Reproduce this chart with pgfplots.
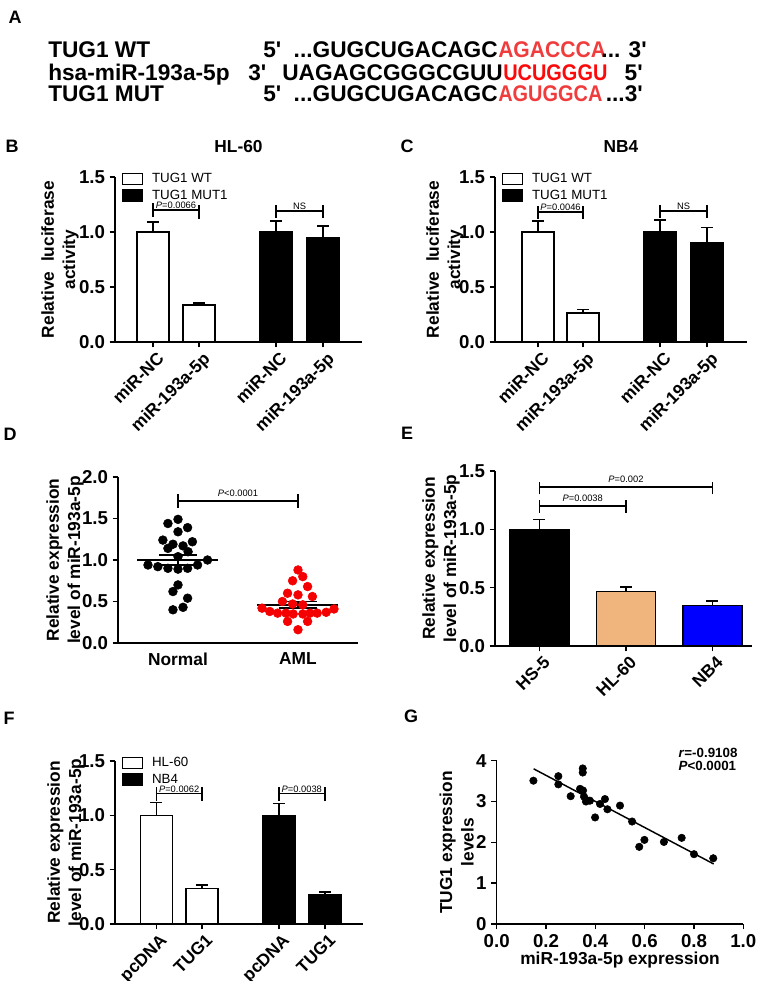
\documentclass[border=0pt]{standalone}
\usepackage{pgfplots}
\pgfplotsset{compat=1.18}
\usepackage{fontspec}
\setmainfont{Liberation Sans}
\definecolor{seqred}{RGB}{240,60,60}
\definecolor{mirred}{RGB}{250,10,10}
\definecolor{tanbar}{RGB}{240,180,125}
\definecolor{dotred}{RGB}{245,0,0}
\newcommand{\fs}[1]{\fontsize{#1}{#1}\selectfont}
\newcommand{\q}{\textquotesingle}
\tikzset{brk/.style={line width=1.3pt}}
\pgfplotsset{
  gp/.style={
    scale only axis, anchor=south west,
    axis x line*=bottom, axis y line*=left,
    axis line style={line width=1.1pt},
    every tick/.style={black, line width=1.1pt},
    tick align=outside, major tick length=4pt,
    /pgf/number format/assume math mode=true,
    yticklabel style={font=\bfseries\fs{14}, /pgf/number format/fixed, /pgf/number format/fixed zerofill, /pgf/number format/precision=1},
    xticklabel style={font=\bfseries\fs{13}},
    label style={font=\bfseries\fontsize{13}{16}\selectfont, align=center},
    clip=false,
  },
  barx/.style={xticklabel style={xshift=2.25pt, yshift=-2.5pt, rotate=45, anchor=north east, inner sep=0pt}},
  legbox/.style={
    legend image code/.code={\draw[##1, line width=1.1pt] (0pt,-4pt) rectangle (15pt,4.25pt); \path (20pt,0pt);},
    legend style={at={(axis description cs:0,1)}, anchor=north west, xshift=5pt, yshift=4.5pt,
      draw=none, fill=none, font=\fs{10}, inner sep=0pt, row sep=1pt, nodes={inner sep=1.5pt, font=\fs{10}}},
    legend cell align=left},
  errb/.style={error bars/.cd, y dir=plus, y explicit,
    error bar style={line width=1.1pt, black},
    error mark options={rotate=90, mark size=4.5pt, line width=1.1pt, black}},
}
\begin{document}
\begin{tikzpicture}
\path[use as bounding box] (0,0) rectangle (567.75pt,-735.75pt);
% ---------- Panel A ----------
\begin{scope}[every node/.style={font=\bfseries\fs{17}, inner sep=0pt, anchor=base west}]
\node at (36pt,-43.5pt) {TUG1 WT};
\node at (197.25pt,-43.5pt) {5\q};
\node[anchor=base east] at (373.5pt,-43.5pt) {...GUGCUGACAGC};
\node at (373.5pt,-43.5pt) {\textcolor{seqred}{\scalebox{0.93}[1]{AGACCCA}}};
\node[anchor=base east] at (485.25pt,-43.5pt) {... 3\q};
\node at (36pt,-60pt) {hsa-miR-193a-5p};
\node at (186pt,-60pt) {3\q};
\node[anchor=base east] at (377.25pt,-60pt) {UAGAGCGGGCGUU};
\node at (377.25pt,-60pt) {\textcolor{mirred}{\scalebox{0.88}[1]{UCUGGGU}}};
\node[anchor=base east] at (482.25pt,-60pt) {5\q};
\node at (36pt,-76.5pt) {TUG1 MUT};
\node at (197.25pt,-76.5pt) {5\q};
\node[anchor=base east] at (373.5pt,-76.5pt) {...GUGCUGACAGC};
\node at (373.5pt,-76.5pt) {\textcolor{seqred}{\scalebox{0.88}[1]{AGUGGCA}}};
\node[anchor=base east] at (482.25pt,-76.5pt) {...3\q};
\end{scope}
% panel letters
\begin{scope}[every node/.style={font=\bfseries\fs{13.5}, anchor=center, inner sep=0pt}]
\node at (11.25pt,-12.75pt) {A};
\node at (9pt,-109.5pt) {B};
\node at (305.25pt,-109.5pt) {C};
\node at (7.5pt,-325.5pt) {D};
\node at (305.25pt,-324.75pt) {E};
\node at (6.75pt,-538.5pt) {F};
\node at (308.25pt,-537pt) {G};
\end{scope}
% ---------- Panel B ----------
\begin{axis}[gp, barx, legbox,
  at={(86.25pt,-256.5pt)}, width=185.25pt, height=123.75pt,
  xmin=-0.826, xmax=4.543, ymin=0, ymax=1.5, ytick={0,0.5,1,1.5},
  xtick={0,1,2.67,3.70}, xticklabels={miR-NC,miR-193a-5p,miR-NC,miR-193a-5p},
  ylabel={Relative\ \ luciferase\\activity},
  ylabel style={at={([xshift=-41.25pt]axis description cs:0,0.5)}, anchor=center},
  title={HL-60}, title style={font=\bfseries\fs{13}, at={([yshift=16.5pt]axis description cs:0.5,1)}, anchor=center}]
\addplot[ybar, bar width=24pt, bar shift=0pt, draw=black, fill=white, line width=1.1pt, errb]
  coordinates {(0,1.0) +- (0,0.09) (1,0.335) +- (0,0.02)};
\addplot[ybar, bar width=24pt, bar shift=0pt, draw=black, fill=black, line width=1.1pt, errb]
  coordinates {(2.67,1.0) +- (0,0.10) (3.70,0.945) +- (0,0.11)};
\legend{TUG1 WT, TUG1 MUT1}
\draw[brk] (axis cs:0,1.14)--(axis cs:0,1.26) (axis cs:0,1.20)--(axis cs:1,1.20) (axis cs:1,1.12)--(axis cs:1,1.25);
\node[font=\fs{7}, anchor=south, inner sep=1pt] at (axis cs:0.5,1.20) {\textit{P}=0.0066};
\draw[brk] (axis cs:2.67,1.13)--(axis cs:2.67,1.25) (axis cs:2.67,1.19)--(axis cs:3.70,1.19) (axis cs:3.70,1.13)--(axis cs:3.70,1.25);
\node[font=\fs{7}, anchor=south, inner sep=1pt] at (axis cs:3.185,1.19) {NS};
\end{axis}
% ---------- Panel C ----------
\begin{axis}[gp, barx, legbox,
  at={(371.25pt,-256.5pt)}, width=189pt, height=123.75pt,
  xmin=-0.945, xmax=4.59, ymin=0, ymax=1.5, ytick={0,0.5,1,1.5},
  xtick={0,0.99,2.68,3.71}, xticklabels={miR-NC,miR-193a-5p,miR-NC,miR-193a-5p},
  ylabel={Relative\ \ luciferase\\activity},
  ylabel style={at={([xshift=-37.5pt]axis description cs:0,0.5)}, anchor=center},
  title={NB4}, title style={font=\bfseries\fs{13}, at={([yshift=16.5pt]axis description cs:0.5,1)}, anchor=center}]
\addplot[ybar, bar width=24pt, bar shift=0pt, draw=black, fill=white, line width=1.1pt, errb]
  coordinates {(0,1.0) +- (0,0.10) (0.99,0.265) +- (0,0.03)};
\addplot[ybar, bar width=24pt, bar shift=0pt, draw=black, fill=black, line width=1.1pt, errb]
  coordinates {(2.68,1.0) +- (0,0.11) (3.71,0.905) +- (0,0.135)};
\legend{TUG1 WT, TUG1 MUT1}
\draw[brk] (axis cs:0,1.12)--(axis cs:0,1.24) (axis cs:0,1.18)--(axis cs:0.99,1.18) (axis cs:0.99,1.12)--(axis cs:0.99,1.24);
\node[font=\fs{7}, anchor=south, inner sep=1pt] at (axis cs:0.495,1.18) {\textit{P}=0.0046};
\draw[brk] (axis cs:2.68,1.13)--(axis cs:2.68,1.25) (axis cs:2.68,1.19)--(axis cs:3.71,1.19) (axis cs:3.71,1.13)--(axis cs:3.71,1.25);
\node[font=\fs{7}, anchor=south, inner sep=1pt] at (axis cs:3.195,1.19) {NS};
\end{axis}
% ---------- Panel D ----------
\begin{axis}[gp,
  at={(88.5pt,-482.25pt)}, width=180pt, height=124.5pt,
  xmin=-0.5, xmax=1.5, ymin=0, ymax=2, ytick={0,0.5,1,1.5,2},
  xtick={0,1}, xticklabels={Normal,AML}, xtick style={draw=none},
  ylabel={Relative expression\\level of miR-193a-5p},
  ylabel style={at={([xshift=-39.75pt]axis description cs:0,0.5)}, anchor=center}]
\addplot[only marks, mark=*, mark size=3.3pt, black] coordinates {
(0,1.49) (-0.084,1.44) (0.08,1.39) (0,1.34) (-0.126,1.24) (-0.042,1.19) (0.042,1.17) (0.12,1.22)
(-0.084,1.14) (0.084,1.10) (0,1.04) (-0.25,0.94) (-0.168,0.92) (-0.084,0.90) (0,0.89) (0.08,0.90)
(0.163,0.94) (0.246,1.00) (0,0.70) (-0.042,0.62) (0.08,0.54) (-0.042,0.40) (0.042,0.43)};
\addplot[only marks, mark=*, mark size=3.3pt, dotred] coordinates {
(1,0.88) (1.04,0.80) (0.955,0.75) (1.08,0.68) (0.913,0.60) (1,0.58) (1.12,0.56) (0.87,0.50)
(0.955,0.47) (1.04,0.46) (0.70,0.42) (0.765,0.38) (0.83,0.36) (0.90,0.36) (0.96,0.35)
(1.04,0.35) (1.10,0.36) (1.16,0.36) (1.235,0.37) (1.30,0.41) (0.913,0.26) (1.08,0.26) (1,0.16)};
\addplot[black, line width=1.1pt] coordinates {(-0.34,1.0) (0.33,1.0)};
\addplot[black, line width=1.1pt] coordinates {(-0.16,1.06) (0.16,1.06)};
\addplot[black, line width=1.1pt] coordinates {(-0.16,0.94) (0.16,0.94)};
\addplot[black, line width=1.1pt] coordinates {(0,0.94) (0,1.06)};
\addplot[black, line width=1.1pt] coordinates {(0.66,0.46) (1.33,0.46)};
\addplot[black, line width=1.1pt] coordinates {(0.84,0.50) (1.16,0.50)};
\addplot[black, line width=1.1pt] coordinates {(0.84,0.42) (1.16,0.42)};
\addplot[black, line width=1.1pt] coordinates {(1,0.42) (1,0.50)};
\draw[brk] (axis cs:0,1.63)--(axis cs:0,1.79) (axis cs:0,1.71)--(axis cs:1,1.71) (axis cs:1,1.63)--(axis cs:1,1.79);
\node[font=\fs{7}, anchor=south, inner sep=3pt] at (axis cs:0.5,1.71) {\textit{P}<0.0001};
\end{axis}
% ---------- Panel E ----------
\begin{axis}[gp, barx,
  at={(371.25pt,-484.5pt)}, width=192.75pt, height=131.25pt,
  xmin=-0.514, xmax=2.457, ymin=0, ymax=1.5, ytick={0,0.5,1,1.5},
  xtick={0,1,2}, xticklabels={HS-5,HL-60,NB4},
  ylabel={Relative expression\\level of miR-193a-5p},
  ylabel style={at={([xshift=-40.5pt]axis description cs:0,0.5)}, anchor=center}]
\addplot[ybar, bar width=44.25pt, bar shift=0pt, draw=black, fill=black, line width=1.1pt, errb]
  coordinates {(0,1.0) +- (0,0.085)};
\addplot[ybar, bar width=44.25pt, bar shift=0pt, draw=black, fill=tanbar, line width=1.1pt, errb]
  coordinates {(1,0.465) +- (0,0.04)};
\addplot[ybar, bar width=44.25pt, bar shift=0pt, draw=black, fill=blue, line width=1.1pt, errb]
  coordinates {(2,0.345) +- (0,0.04)};
\draw[brk] (axis cs:0,1.14)--(axis cs:0,1.25) (axis cs:0,1.20)--(axis cs:1,1.20) (axis cs:1,1.14)--(axis cs:1,1.25);
\node[font=\fs{7}, anchor=south, inner sep=3pt] at (axis cs:0.5,1.20) {\textit{P}=0.0038};
\draw[brk] (axis cs:0,1.30)--(axis cs:0,1.41) (axis cs:0,1.36)--(axis cs:2,1.36) (axis cs:2,1.30)--(axis cs:2,1.41);
\node[font=\fs{7}, anchor=south, inner sep=3pt] at (axis cs:1,1.36) {\textit{P}=0.002};
\end{axis}
% ---------- Panel F ----------
\begin{axis}[gp, barx, legbox,
  at={(86.25pt,-693pt)}, width=186pt, height=122.25pt,
  xmin=-0.91, xmax=4.54, ymin=0, ymax=1.5, ytick={0,0.5,1,1.5},
  xtick={0,1,2.69,3.70}, xticklabels={pcDNA,TUG1,pcDNA,TUG1},
  ylabel={Relative expression\\level of miR-193a-5p},
  ylabel style={at={([xshift=-36.75pt]axis description cs:0,0.5)}, anchor=center}]
\addplot[ybar, bar width=24pt, bar shift=0pt, draw=black, fill=white, line width=1.1pt, errb]
  coordinates {(0,1.0) +- (0,0.12) (1,0.325) +- (0,0.035)};
\addplot[ybar, bar width=24pt, bar shift=0pt, draw=black, fill=black, line width=1.1pt, errb]
  coordinates {(2.69,1.0) +- (0,0.11) (3.70,0.265) +- (0,0.03)};
\legend{HL-60, NB4}
\draw[brk] (axis cs:0,1.13)--(axis cs:0,1.26) (axis cs:0,1.20)--(axis cs:1,1.20) (axis cs:1,1.13)--(axis cs:1,1.26);
\node[font=\fs{7}, anchor=south, inner sep=0.5pt] at (axis cs:0.5,1.20) {\textit{P}=0.0062};
\draw[brk] (axis cs:2.69,1.13)--(axis cs:2.69,1.26) (axis cs:2.69,1.20)--(axis cs:3.70,1.20) (axis cs:3.70,1.13)--(axis cs:3.70,1.26);
\node[font=\fs{7}, anchor=south, inner sep=0.5pt] at (axis cs:3.195,1.20) {\textit{P}=0.0038};
\end{axis}
% ---------- Panel G ----------
\begin{axis}[gp,
  at={(372.5pt,-693pt)}, width=185pt, height=122.5pt,
  xmin=0, xmax=1, ymin=0, ymax=4, ytick={0,1,2,3,4}, xtick={0,0.2,0.4,0.6,0.8,1},
  xticklabel style={font=\bfseries\fs{14}, /pgf/number format/fixed, /pgf/number format/fixed zerofill, /pgf/number format/precision=1},
  yticklabel style={/pgf/number format/precision=0},
  xlabel={miR-193a-5p expression},
  xlabel style={at={([yshift=-27pt]axis description cs:0.5,0)}, anchor=center},
  ylabel={TUG1 expression\\levels},
  ylabel style={at={([xshift=-30pt]axis description cs:0,0.5)}, anchor=center}]
\addplot[only marks, mark=*, mark size=2.8pt, black] coordinates {
(0.149,3.51) (0.25,3.62) (0.25,3.42) (0.30,3.13) (0.338,3.31) (0.35,3.27) (0.349,3.81) (0.349,3.71)
(0.354,3.12) (0.362,3.00) (0.378,3.02) (0.419,2.94) (0.439,3.06) (0.449,2.81) (0.399,2.61)
(0.50,2.90) (0.549,2.51) (0.578,1.89) (0.599,2.06) (0.678,2.01) (0.75,2.11) (0.80,1.71) (0.878,1.61)};
\addplot[black, line width=1.1pt] coordinates {(0.15,3.80) (0.88,1.47)};
\node[font=\bfseries\fs{10}, align=left, anchor=center] at (axis description cs:0.857,1.007) {\textit{r}=-0.9108\\\textit{P}<0.0001};
\end{axis}
\end{tikzpicture}
\end{document}
